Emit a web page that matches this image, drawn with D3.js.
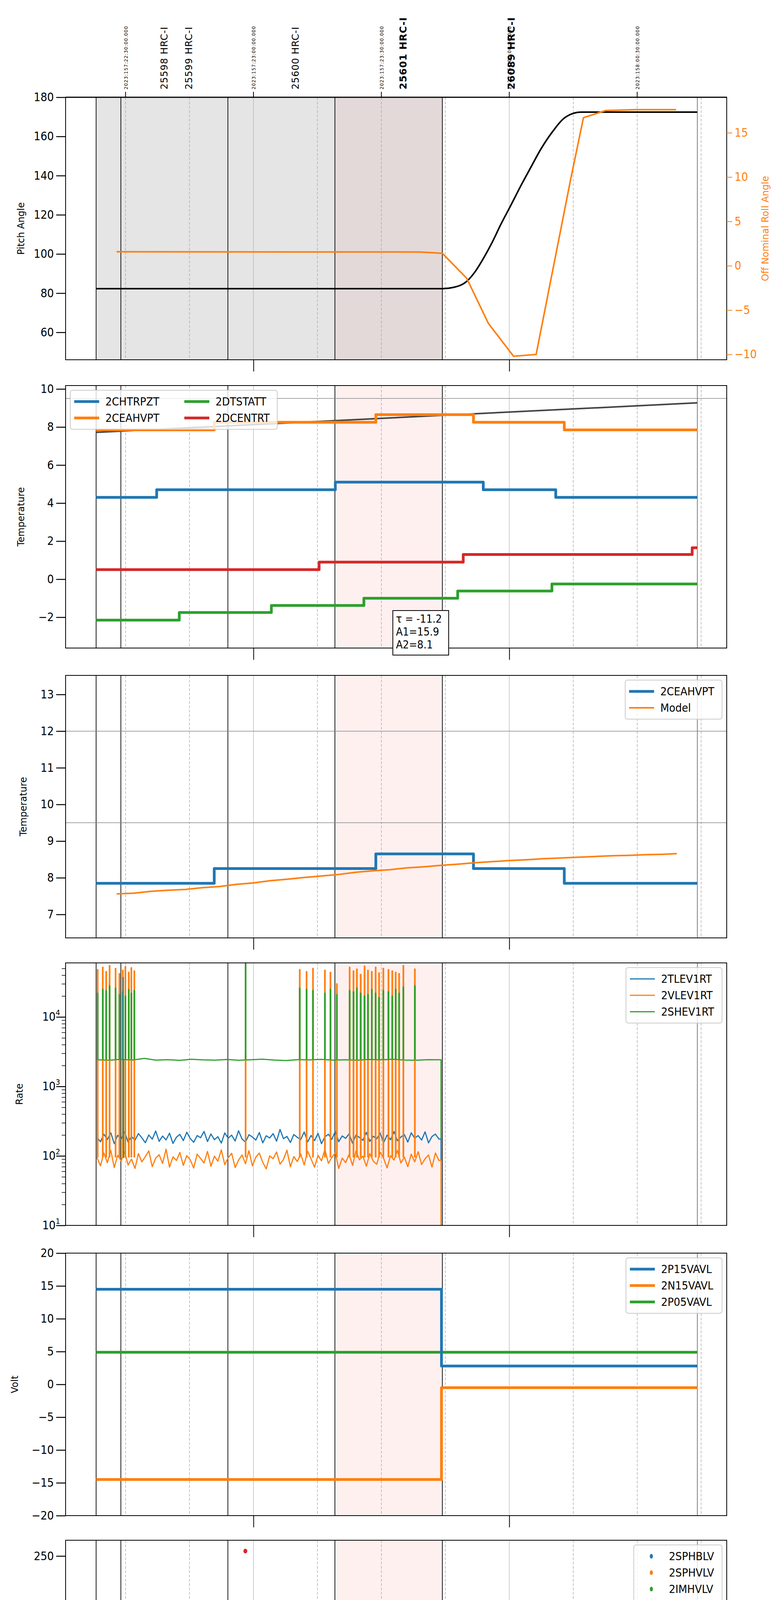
<!DOCTYPE html>
<html>
<head>
<meta charset="utf-8">
<script src="https://cdn.jsdelivr.net/npm/d3@7"></script>
<style>
  body { margin: 0; background: #fff; }
  text { font-family: "Liberation Sans Narrow", "DejaVu Sans Condensed", sans-serif; }
  .wide { font-family: "DejaVu Sans", sans-serif; }
</style>
</head>
<body>
<div id="chart"></div>
<script>
// ---- time axis (minutes after 18:00 local, 2023-06-06) ----
var majorTicks = [60, 120], majorLabels = ["19h", "20h"];
var minorTicks = [30, 45, 75, 90, 105, 135, 150, 165];
var minorLabels = ["30", "45", "15", "30", "45", "15", "30", "45"];
var blackLines = [23.1, 28.9, 54.0, 79.1, 104.3, 164.1];
var grayShades = [[23.1, 54.0], [54.0, 79.1]];
var pinkShade = [79.1, 104.3];
var stampTimes = [30, 60, 90, 120, 150];
var stampLabels = ["2023:157:22:30:00.000", "2023:157:23:00:00.000", "2023:157:23:30:00.000",
                   "2023:158:00:00:00.000", "2023:158:00:30:00.000"];
var obsTimes = [39.0, 44.8, 69.8, 95.1, 120.4];
var obsLabels = ["25598 HRC-I", "25599 HRC-I", "25600 HRC-I", "25601 HRC-I", "26089 HRC-I"];
var obsBold = [false, false, false, true, true];

// ---- panel 1: pitch / roll ----
var pitchT = [23.1, 104.3, 107, 110, 112, 114, 116, 118, 120.4, 123, 125, 127.4, 130, 133.3, 136.8, 164.1];
var pitchV = [82.3, 82.3, 83, 86, 91, 98, 106, 115, 125, 136, 144, 153.5, 162, 170, 172.4, 172.4];
var rollT = [27.9, 99.2, 104.3, 110.0, 115.1, 121, 126.3, 134.5, 137.4, 142.6, 149.7, 159.1];
var rollV = [1.58, 1.55, 1.4, -1.4, -6.5, -10.2, -10.0, 10, 16.7, 17.5, 17.6, 17.6];

// ---- panel 2: temperatures (step breakpoints / levels) ----
var chtrpztT = [23.1, 37.3, 79.2, 113.9, 130.9, 164.1], chtrpztV = [4.3, 4.7, 5.1, 4.7, 4.3];
var ceahvptT = [23.1, 50.8, 88.7, 111.6, 132.9, 164.1], ceahvptV = [7.85, 8.25, 8.65, 8.25, 7.85];
var dtstattT = [23.1, 42.6, 64.2, 85.9, 107.9, 130.0, 164.1], dtstattV = [-2.15, -1.75, -1.38, -1.0, -0.62, -0.25];
var dcentrtT = [23.1, 75.4, 109.2, 162.9, 164.1], dcentrtV = [0.5, 0.9, 1.3, 1.65];
var trendT = [23.1, 164.1], trendV = [7.72, 9.27];

// ---- panel 3: model ----
var modelT = [27.9, 32, 36, 40, 44, 48, 52, 56, 60, 64, 68, 72, 76, 80, 84, 88, 92, 96, 100, 104, 108, 112, 116, 120, 124, 128, 132, 136, 140, 144, 148, 152, 156, 159.3];
var modelV = [7.56, 7.58, 7.63, 7.66, 7.68, 7.73, 7.76, 7.82, 7.86, 7.92, 7.96, 8.01, 8.05, 8.09, 8.15, 8.19, 8.22, 8.27, 8.3, 8.34, 8.37, 8.41, 8.44, 8.47, 8.49, 8.52, 8.54, 8.56, 8.58, 8.6, 8.61, 8.63, 8.64, 8.66];

// ---- panel 4: rates ----
var rateStart = 23.3, rateStep = 0.81;
var tlev = [185,160,205,172,215,150,198,176,222,158,190,168,210,182,155,200,174,228,162,193,
  170,212,151,186,204,166,219,178,157,196,183,225,161,207,171,189,153,214,180,199,
  164,230,175,158,202,187,169,217,154,195,181,209,163,240,177,191,156,203,185,172,
  221,159,197,166,211,150,188,205,173,226,160,194,179,208,152,200,184,168,218,162,
  192,176,213,155,199,171,224,165,187,203,158,215,180,196,169,222,154,190,206,175];
var vlev = [95,72,110,80,120,68,102,85,115,74,90,66,108,82,98,118,70,93,104,78,
  125,69,97,86,112,73,101,88,67,106,92,79,116,71,99,84,122,75,94,109,
  68,87,103,77,119,72,96,110,81,65,100,91,114,76,89,121,70,98,83,107,
  74,117,90,69,102,85,124,78,95,111,66,93,80,105,73,118,88,99,71,108,
  84,76,113,92,67,101,87,120,79,96,70,106,82,115,75,91,103,69,110,86];
var shevStep = 2.77;
var shev = [2420,2380,2450,2400,2530,2390,2430,2370,2460,2410,2390,2440,2380,2420,2470,2400,2360,2430,2410,2450,2390,2420,2380,2440,2410,2460,2400,2380,2430,2420];
var rateSpikeT = [23.4, 24.6, 25.4, 26.2, 27.6, 28.5, 29.3, 29.9, 30.7, 31.3, 32.0, 58.1, 70.8, 72.4, 73.9, 76.7, 78.0, 79.5,
  82.5, 83.4, 84.2, 85.1, 86.0, 86.8, 87.7, 88.6, 89.4, 90.4, 91.6, 92.5, 93.3, 94.1, 95.1, 97.8];
var vlevSpike = [48000, 52000, 45000, 55000, 50000, 42000, 47000, 53000, 44000, 51000, 46000, 3000, 48000, 45000, 50000, 47000, 44000, 30000,
  52000, 46000, 49000, 41000, 54000, 47000, 45000, 52000, 43000, 50000, 48000, 46000, 44000, 42000, 55000, 49000];
var shevSpike = [22000, 25000, 24000, 28000, 26000, 21000, 23000, 20000, 25000, 22000, 24000, 60000, 26000, 25000, 24000, 22000, 25000, 21000,
  24000, 23000, 26000, 22000, 20000, 21000, 25000, 22000, 19000, 24000, 23000, 20000, 25000, 22000, 27000, 28000];
var rateEnd = 104.0;

// ---- panel 5: voltages ----
var p15T = [23.1, 104.1, 164.1], p15V = [14.5, 2.8];
var n15T = [23.1, 104.1, 164.1], n15V = [-14.5, -0.5];
var p05T = [23.1, 164.1], p05V = [4.9];

// ---- panel 6: HV monitors ----
var hvSpan = [23.3, 104.2];
var imhvlvLevel = 79, imhblvLevel = 86;
var imhvlvHighT = [82.6, 85.5, 87.4, 91.5, 93.5], imhvlvHighV = [126, 126, 126, 126, 126];
var imhblvLowT = [23.4, 82.6, 85.5, 87.4, 91.5, 93.5], imhblvLowV = [79, 79, 79, 79, 79, 79];
var imhblvHighT = [58.1], imhblvHighV = [255];

// ---- panel 7: detector temps ----
var detSpikeT = [23.4, 26.2, 26.9, 27.6, 28.5, 29.3, 29.9, 30.7, 31.3, 70.8, 72.4, 76.7, 79.5, 82.5, 83.4, 85.1, 86.0,
  86.8, 87.7, 88.6, 90.4, 91.6, 93.3, 97.8];
var spinatmT = [23.1, 73.9, 104.0], spinatmV = [3.25, 3.7];
var sphvatmT = [23.1, 49.8, 80.6, 104.0], sphvatmV = [16.1, 16.35, 16.65];
var iminatmT = [23.1, 65.4, 104.0], iminatmV = [1.5, 1.9];
var imhvatmT = [23.1, 26.0, 49.8, 75.9, 104.3], imhvatmV = [17.25, 17.5, 17.75, 18.05];
var spinatmDip = 0;
var imhvatmDrops = [58.1];

// ---- panel 8: FEA temps ----
var fhtrmztT = [23.1, 25.6, 39.7, 54.0, 68.9, 84.6, 100.3, 126.0, 149.3, 164.1];
var fhtrmztV = [-2.12, -1.75, -1.37, -0.98, -0.61, -0.24, 0.13, -0.26, -0.61];
var fradpytT = [23.1, 30.0, 45.6, 61.6, 78.3, 95.9, 123.6, 133.7, 164.1];
var fradpytV = [-4.81, -4.43, -4.03, -3.64, -3.27, -2.89, -2.51, -2.89];
var fepratmT = [23.1, 31.3, 47.3, 64.0, 81.8, 100.3, 104.3], fepratmV = [1.07, 1.51, 1.92, 2.37, 2.8, 3.27];
var fe00atmT = [23.1, 32.5, 43.5, 55.1, 67.2, 79.5, 91.0, 104.3], fe00atmV = [1.1, 1.45, 1.74, 2.05, 2.33, 2.64, 2.95];
var fepratmDip = -4.65, fe00atmPeak = 4.6;
var fe00atmDrops = [29.7, 58.1];

// ---------------------------------------------------------------
var C = { blue: "#1f77b4", orange: "#ff7f0e", green: "#2ca02c", red: "#d62728" };
var W = 2000, H = 6200;
var svg = d3.select("#chart").append("svg").attr("width", W).attr("height", H);
var x = d3.scaleLinear().domain([15.94, 171]).range([168, 1861]);
var PH = 672;
var tops = [249, 987, 1729, 2465, 3208, 3943, 4686, 5420];

function steps(T, V) {
  var pts = [];
  for (var i = 0; i < V.length; i++) { pts.push([T[i], V[i]]); pts.push([T[i + 1], V[i]]); }
  return pts;
}
function levelAt(T, V, t) {
  for (var i = 0; i < V.length; i++) if (t >= T[i] && t < T[i + 1]) return V[i];
  return V[V.length - 1];
}
function zip(T, V) { return T.map(function(t, i) { return [t, V[i]]; }); }

function panel(idx, yScale, opts) {
  var top = tops[idx];
  var g = svg.append("g");
  var y = yScale.range([top + PH, top]);
  var clipId = "clip" + idx;
  svg.append("clipPath").attr("id", clipId).append("rect")
    .attr("x", 168).attr("y", top).attr("width", 1861 - 168).attr("height", PH);
  var bg = g.append("g").attr("clip-path", "url(#" + clipId + ")");
  if (opts.grayShade) {
    grayShades.forEach(function(s) {
      bg.append("rect").attr("x", x(s[0])).attr("width", x(s[1]) - x(s[0]))
        .attr("y", top).attr("height", PH).attr("fill", "#e5e5e5");
    });
    bg.append("rect").attr("x", x(pinkShade[0])).attr("width", x(pinkShade[1]) - x(pinkShade[0]))
      .attr("y", top).attr("height", PH).attr("fill", "#e4d9d9");
  } else {
    bg.append("rect").attr("x", x(pinkShade[0])).attr("width", x(pinkShade[1]) - x(pinkShade[0]))
      .attr("y", top).attr("height", PH).attr("fill", "#fff0f0");
  }
  majorTicks.forEach(function(t) {
    bg.append("line").attr("x1", x(t)).attr("x2", x(t)).attr("y1", top).attr("y2", top + PH)
      .attr("stroke", "#b0b0b0").attr("stroke-width", 1.2);
  });
  minorTicks.forEach(function(t) {
    bg.append("line").attr("x1", x(t)).attr("x2", x(t)).attr("y1", top).attr("y2", top + PH)
      .attr("stroke", "#aaa").attr("stroke-width", 1.4).attr("stroke-dasharray", "7,4");
  });
  blackLines.forEach(function(t, i) {
    bg.append("line").attr("x1", x(t)).attr("x2", x(t)).attr("y1", top).attr("y2", top + PH)
      .attr("stroke", i == 5 ? "#333" : "#000").attr("stroke-width", i == 5 ? 1.2 : 1.8);
  });
  (opts.hlines || []).forEach(function(v) {
    bg.append("line").attr("x1", 168).attr("x2", 1861).attr("y1", y(v)).attr("y2", y(v))
      .attr("stroke", "#888").attr("stroke-width", 1.5);
  });
  var plot = g.append("g").attr("clip-path", "url(#" + clipId + ")");

  // frame
  g.append("rect").attr("x", 168).attr("y", top).attr("width", 1861 - 168).attr("height", PH)
    .attr("fill", "none").attr("stroke", "#000").attr("stroke-width", 2);
  // y axis
  var ya = d3.axisLeft(y).tickValues(opts.ticks).tickSize(24).tickPadding(6)
    .tickFormat(opts.fmt || function(d) { return String(d).replace("-", "\u2212"); });
  var yg = g.append("g").attr("transform", "translate(168,0)").call(ya);
  yg.select(".domain").remove();
  yg.selectAll(".tick line").attr("stroke-width", 2.5);
  yg.selectAll(".tick text").style("font-size", "30px");
  if (opts.minorY) {
    var ym = d3.axisLeft(y).tickValues(opts.minorY).tickSize(10).tickFormat("");
    var ymg = g.append("g").attr("transform", "translate(168,0)").call(ym);
    ymg.select(".domain").remove();
    ymg.selectAll(".tick line").attr("stroke-width", 1.5);
  }
  g.append("text").attr("class", "wide").attr("transform", "translate(" + opts.labelX + "," + (top + PH / 2) + ") rotate(-90)")
    .attr("text-anchor", "middle").style("font-size", "24px").text(opts.label);
  // x ticks
  var xa = d3.axisBottom(x).tickValues(majorTicks).tickSize(30).tickFormat("");
  var xg = g.append("g").attr("transform", "translate(0," + (top + PH) + ")").call(xa);
  xg.select(".domain").remove();
  xg.selectAll(".tick line").attr("stroke-width", 2);
  if (opts.minorX) {
    var xm = d3.axisBottom(x).tickValues(minorTicks).tickSize(10).tickPadding(6)
      .tickFormat(function(d, i) { return minorLabels[i]; });
    var xmg = g.append("g").attr("transform", "translate(0," + (top + PH) + ")").call(xm);
    xmg.select(".domain").remove();
    xmg.selectAll(".tick line").attr("stroke-width", 1.5);
    xmg.selectAll(".tick text").style("font-size", "22px");
    xg.selectAll(".tick").append("text").attr("y", 62).attr("fill", "#000").attr("text-anchor", "middle")
      .style("font-size", "30px").text(function(d, i) { return majorLabels[i]; });
  }
  return { g: g, plot: plot, y: y, top: top };
}

function drawLine(p, pts, color, w, curve) {
  var line = d3.line().x(function(d) { return x(d[0]); }).y(function(d) { return p.y(d[1]); });
  if (curve) line.curve(curve);
  p.plot.append("path").datum(pts).attr("d", line).attr("fill", "none")
    .attr("stroke", color).attr("stroke-width", w).attr("stroke-linejoin", "round");
}
function drawSpikes(p, times, base, vals, color, w, width) {
  times.forEach(function(t, i) {
    var b = typeof base == "function" ? base(t) : base;
    var v = Array.isArray(vals) ? vals[i] : vals;
    drawLine(p, [[t, b], [t, v], [t + width, v], [t + width, b]], color, w);
  });
}
function legend(p, items, o) {
  var rowH = 42, cols = o.cols || 1, rows = Math.ceil(items.length / cols), colW = o.colW || 0;
  var lg = p.g.append("g");
  var bw = o.w, bh = rows * rowH + 16;
  var bx = o.left ? 180 : 1849 - bw, by = p.top + 12;
  lg.append("rect").attr("x", bx).attr("y", by).attr("width", bw).attr("height", bh).attr("rx", 6)
    .attr("fill", "rgba(255,255,255,0.8)").attr("stroke", "#ccc").attr("stroke-width", 2);
  items.forEach(function(it, i) {
    var c = Math.floor(i / rows), r = i % rows;
    var cx = bx + 10 + c * colW, cy = by + 8 + rowH / 2 + r * rowH;
    if (it.dot) lg.append("ellipse").attr("cx", cx + 35).attr("cy", cy).attr("rx", 4).attr("ry", 6).attr("fill", it.color);
    else lg.append("line").attr("x1", cx).attr("x2", cx + 64).attr("y1", cy).attr("y2", cy)
      .attr("stroke", it.color).attr("stroke-width", it.w || 7);
    lg.append("text").attr("x", cx + 80).attr("y", cy + 10).style("font-size", "29px").text(it.name);
  });
}

// ---- Panel 1 ----
var p1 = panel(0, d3.scaleLinear().domain([46, 180]), { ticks: d3.range(60, 181, 20), label: "Pitch Angle", labelX: 62, grayShade: true });
var yr = d3.scaleLinear().domain([-10.6, 19]).range([p1.top + PH, p1.top]);
drawLine(p1, zip(pitchT, pitchV), "#000", 4, d3.curveMonotoneX);
var rollLine = d3.line().x(function(d) { return x(d[0]); }).y(function(d) { return yr(d[1]); });
p1.plot.append("path").datum(zip(rollT, rollV)).attr("d", rollLine).attr("fill", "none")
  .attr("stroke", C.orange).attr("stroke-width", 4);
var ra = d3.axisRight(yr).tickValues([-10, -5, 0, 5, 10, 15]).tickSize(14).tickPadding(6)
  .tickFormat(function(d) { return String(d).replace("-", "\u2212"); });
var rg = p1.g.append("g").attr("transform", "translate(1861,0)").call(ra);
rg.select(".domain").remove();
rg.selectAll(".tick line").attr("stroke", C.orange).attr("stroke-width", 2);
rg.selectAll(".tick text").attr("fill", C.orange).style("font-size", "30px");
p1.g.append("text").attr("class", "wide").attr("transform", "translate(1968," + (p1.top + PH / 2) + ") rotate(-90)")
  .attr("text-anchor", "middle").attr("fill", C.orange).style("font-size", "24px").text("Off Nominal Roll Angle");
p1.g.append("line").attr("x1", 168).attr("x2", 1861).attr("y1", p1.top).attr("y2", p1.top).attr("stroke", "#000").attr("stroke-width", 3);
stampTimes.forEach(function(t, i) {
  p1.g.append("line").attr("x1", x(t)).attr("x2", x(t)).attr("y1", p1.top).attr("y2", p1.top - 14).attr("stroke", "#000").attr("stroke-width", 2);
  p1.g.append("text").attr("class", "wide").attr("transform", "translate(" + (x(t) + 5) + "," + (p1.top - 20) + ") rotate(-90)")
    .style("font-size", "12px").style("letter-spacing", "1px").text(stampLabels[i]);
});
obsTimes.forEach(function(t, i) {
  p1.g.append("text").attr("class", "wide").attr("transform", "translate(" + (x(t) + 9) + "," + (p1.top - 20) + ") rotate(-90)")
    .style("font-size", obsBold[i] ? "25px" : "24px").style("font-weight", obsBold[i] ? "bold" : "normal")
    .style("letter-spacing", "1px").text(obsLabels[i]);
});

// ---- Panel 2 ----
var p2 = panel(1, d3.scaleLinear().domain([-3.62, 10.18]), { ticks: d3.range(-2, 11, 2), label: "Temperature", labelX: 62, hlines: [9.5] });
drawLine(p2, zip(trendT, trendV), "#444", 4);
drawLine(p2, steps(chtrpztT, chtrpztV), C.blue, 7);
drawLine(p2, steps(ceahvptT, ceahvptV), C.orange, 7);
drawLine(p2, steps(dtstattT, dtstattV), C.green, 7);
drawLine(p2, steps(dcentrtT, dcentrtV), C.red, 7);
legend(p2, [{ name: "2CHTRPZT", color: C.blue }, { name: "2CEAHVPT", color: C.orange },
  { name: "2DTSTATT", color: C.green }, { name: "2DCENTRT", color: C.red }], { left: true, cols: 2, colW: 282, w: 530 });
var tb = p2.g.append("g");
tb.append("rect").attr("x", 1006).attr("y", 1563).attr("width", 143).attr("height", 114).attr("fill", "#fff").attr("stroke", "#000").attr("stroke-width", 2);
["\u03c4 = -11.2", "A1=15.9", "A2=8.1"].forEach(function(s, i) {
  tb.append("text").attr("x", 1014).attr("y", 1594 + i * 33).style("font-size", "28px").text(s);
});

// ---- Panel 3 ----
var p3 = panel(2, d3.scaleLinear().domain([6.36, 13.52]), { ticks: d3.range(7, 14), label: "Temperature", labelX: 68, hlines: [12, 9.5] });
drawLine(p3, steps(ceahvptT, ceahvptV), C.blue, 7);
drawLine(p3, zip(modelT, modelV), C.orange, 4);
legend(p3, [{ name: "2CEAHVPT", color: C.blue }, { name: "Model", color: C.orange, w: 4 }], { w: 248 });

// ---- Panel 4 ----
var minorLog = [];
[10, 100, 1000, 10000].forEach(function(d) { for (var k = 2; k <= 9; k++) if (d * k < 60000) minorLog.push(d * k); });
var p4 = panel(3, d3.scaleLog().domain([10, 60000]), { ticks: [10, 100, 1000, 10000], minorY: minorLog, label: "Rate", labelX: 58,
  fmt: function() { return ""; } });
[1, 2, 3, 4].forEach(function(e) {
  var t = p4.g.append("text").attr("x", 160 - 6).attr("y", p4.y(Math.pow(10, e)) + 10).attr("text-anchor", "end").style("font-size", "30px");
  t.append("tspan").text("10");
  t.append("tspan").attr("dy", -14).style("font-size", "20px").text(e);
});
function rateSeries(vals, start, step, endT) {
  var pts = vals.map(function(v, i) { return [start + i * step, v]; });
  pts = pts.filter(function(d) { return d[0] < endT; });
  pts.push([endT, vals[vals.length - 1]]);
  pts.push([endT, 10]);
  return pts;
}
drawLine(p4, rateSeries(shev, rateStart, shevStep, rateEnd), C.green, 3);
drawLine(p4, rateSeries(tlev, rateStart, rateStep, rateEnd), C.blue, 3);
drawLine(p4, rateSeries(vlev, rateStart, rateStep, rateEnd), C.orange, 3);
drawSpikes(p4, rateSpikeT, 95, vlevSpike, C.orange, 3, 0.12);
drawSpikes(p4, rateSpikeT, 2400, shevSpike, C.green, 3, 0.12);
drawSpikes(p4, [29.4], 180, [37000], C.blue, 3, 0.05);
drawSpikes(p4, [29.5], 2400, [95], C.green, 3, 0.05);
legend(p4, [{ name: "2TLEV1RT", color: C.blue, w: 3 }, { name: "2VLEV1RT", color: C.orange, w: 3 },
  { name: "2SHEV1RT", color: C.green, w: 3 }], { w: 246 });

// ---- Panel 5 ----
var p5 = panel(4, d3.scaleLinear().domain([-20, 20]), { ticks: d3.range(-20, 21, 5), label: "Volt", labelX: 46 });
drawLine(p5, steps(p05T, p05V), C.green, 7);
drawLine(p5, steps(p15T, p15V), C.blue, 7);
drawLine(p5, steps(n15T, n15V), C.orange, 7);
legend(p5, [{ name: "2P15VAVL", color: C.blue }, { name: "2N15VAVL", color: C.orange },
  { name: "2P05VAVL", color: C.green }], { w: 246 });

// ---- Panel 6 ----
var p6 = panel(5, d3.scaleLinear().domain([0, 266]), { ticks: d3.range(0, 251, 50), label: "HV Monitor", labelX: 58 });
var hvTimes = d3.range(hvSpan[0], hvSpan[1], 0.4);
function dots(p, T, V, color) {
  p.plot.selectAll(null).data(zip(T, V)).enter().append("ellipse")
    .attr("cx", function(d) { return x(d[0]); }).attr("cy", function(d) { return p.y(d[1]); })
    .attr("rx", 5).attr("ry", 6).attr("fill", color);
}
dots(p6, hvTimes, hvTimes.map(function() { return imhblvLevel; }), C.red);
dots(p6, hvTimes, hvTimes.map(function() { return imhvlvLevel; }), C.green);
dots(p6, imhvlvHighT, imhvlvHighV, C.green);
dots(p6, imhblvLowT, imhblvLowV, C.red);
dots(p6, imhblvHighT, imhblvHighV, C.red);
legend(p6, [{ name: "2SPHBLV", color: C.blue, dot: true }, { name: "2SPHVLV", color: C.orange, dot: true },
  { name: "2IMHVLV", color: C.green, dot: true }, { name: "2IMHBLV", color: C.red, dot: true }], { w: 226 });

// ---- Panel 7 ----
var p7 = panel(6, d3.scaleLinear().domain([0, 19.6]), { ticks: d3.range(0, 17.6, 2.5), label: "Detector Temp", labelX: 44,
  fmt: d3.format(".1f") });
drawLine(p7, steps(sphvatmT, sphvatmV), C.orange, 7);
drawSpikes(p7, detSpikeT, function(t) { return levelAt(sphvatmT, sphvatmV, t); }, detSpikeT.map(function(t) { return t < 40 ? 10.6 : 11.1; }), C.orange, 6, 0.15);
drawLine(p7, steps(spinatmT, spinatmV), C.blue, 7);
drawSpikes(p7, detSpikeT, function(t) { return levelAt(spinatmT, spinatmV, t); }, spinatmDip, C.blue, 6, 0.15);
drawLine(p7, steps(iminatmT, iminatmV), C.green, 7);
drawSpikes(p7, detSpikeT, function(t) { return levelAt(iminatmT, iminatmV, t); }, detSpikeT.map(function(t) { return t < 40 ? 3.3 : 3.7; }), C.green, 6, 0.15);
drawLine(p7, steps(imhvatmT, imhvatmV), C.red, 7);
drawSpikes(p7, detSpikeT, function(t) { return levelAt(imhvatmT, imhvatmV, t); }, detSpikeT.map(function(t) { return t < 40 ? 16.1 : 16.4; }), C.red, 6, 0.15);
drawSpikes(p7, imhvatmDrops, function(t) { return levelAt(imhvatmT, imhvatmV, t); }, 0, C.red, 6, 0.05);
drawLine(p7, [[104.3, 18.05], [104.3, 0], [104.3, 20]], C.red, 7);
legend(p7, [{ name: "2SPINATM", color: C.blue }, { name: "2SPHVATM", color: C.orange },
  { name: "2IMINATM", color: C.green }, { name: "2IMHVATM", color: C.red }], { w: 246 });

// ---- Panel 8 ----
var p8 = panel(7, d3.scaleLinear().domain([-5.93, 4.3]), { ticks: d3.range(-4, 5, 2), label: "FEA Temp", labelX: 62, minorX: true });
p8.g.append("line").attr("x1", 168).attr("x2", 1861).attr("y1", p8.top).attr("y2", p8.top).attr("stroke", "#000").attr("stroke-width", 3);
p8.g.append("line").attr("x1", 168).attr("x2", 1861).attr("y1", p8.top + PH).attr("y2", p8.top + PH).attr("stroke", "#000").attr("stroke-width", 3);
drawLine(p8, steps(fhtrmztT, fhtrmztV), C.blue, 7);
drawLine(p8, steps(fradpytT, fradpytV), C.orange, 7);
drawLine(p8, steps(fepratmT, fepratmV), C.green, 7);
drawSpikes(p8, detSpikeT, function(t) { return levelAt(fepratmT, fepratmV, t); }, fepratmDip, C.green, 6, 0.15);
drawLine(p8, steps(fe00atmT, fe00atmV), C.red, 7);
drawSpikes(p8, detSpikeT, function(t) { return levelAt(fe00atmT, fe00atmV, t); }, fe00atmPeak, C.red, 6, 0.2);
drawSpikes(p8, fe00atmDrops, function(t) { return levelAt(fe00atmT, fe00atmV, t); }, -6, C.red, 6, 0.05);
drawLine(p8, [[104.3, 2.95], [104.3, -6], [104.3, 5]], C.red, 8);
legend(p8, [{ name: "2FHTRMZT", color: C.blue }, { name: "2FRADPYT", color: C.orange },
  { name: "2FEPRATM", color: C.green }, { name: "2FE00ATM", color: C.red }], { w: 250 });
p8.g.append("text").attr("x", x(93)).attr("y", p8.top + PH + 90).attr("text-anchor", "middle")
  .style("font-size", "34px").text("2023-06-06 (157)");
</script>
</body>
</html>
